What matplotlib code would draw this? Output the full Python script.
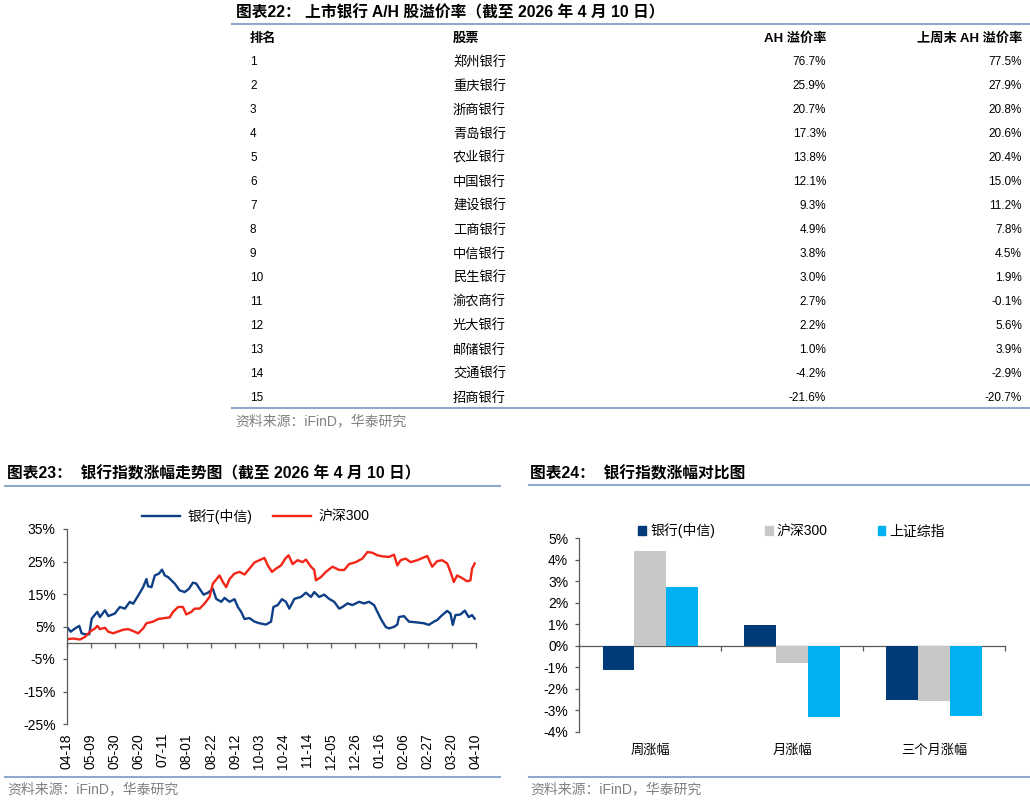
import numpy as np
import matplotlib
matplotlib.use('Agg')
import matplotlib.pyplot as plt
from matplotlib.patches import Patch
from matplotlib.lines import Line2D

plt.rcParams['font.family'] = ['Liberation Sans', 'Noto Sans CJK SC']
plt.rcParams['axes.unicode_minus'] = False

W, H = 1030, 802

# ---- table data (图表22)
ranks = [str(i) for i in range(1, 16)]
stocks = ['郑州银行', '重庆银行', '浙商银行', '青岛银行', '农业银行', '中国银行', '建设银行',
          '工商银行', '中信银行', '民生银行', '渝农商行', '光大银行', '邮储银行', '交通银行', '招商银行']
ah_now = [76.7, 25.9, 20.7, 17.3, 13.8, 12.1, 9.3, 4.9, 3.8, 3.0, 2.7, 2.2, 1.0, -4.2, -21.6]
ah_last = [77.5, 27.9, 20.8, 20.6, 20.4, 15.0, 11.2, 7.8, 4.5, 1.9, -0.1, 5.6, 3.9, -2.9, -20.7]

# ---- line chart data (图表23), x = days since 2025-04-18
bank_day = [0, 3.5, 7.3, 11, 13, 16, 19.7, 21.8, 26.7, 29, 33.4, 36.3, 42, 46.4, 50.8, 55.1, 58,
            62.4, 66.7, 69.6, 71, 74, 76.9, 80.6, 83.2, 85.6, 88.5, 91.4, 94.3, 98.6, 103, 106.7,
            110.2, 113.1, 116, 119.5, 123.3, 127.6, 130.5, 134.9, 137.8, 142.1, 146.5, 149.4,
            152.3, 155.2, 159.5, 163.9, 168.2, 174, 178.4, 180.4, 184.2, 187.9, 191.4, 194.3,
            198.7, 201.6, 204.5, 208.8, 213.2, 216.1, 220.4, 224.8, 229.1, 233.5, 237.8, 240.7,
            245.1, 249.4, 255.2, 259.6, 263.9, 268.3, 271.2, 274.1, 278.4, 281.3, 285.7, 288.6,
            290, 294.4, 298.7, 304.5, 311.8, 316.1, 320.5, 323.4, 327.7, 332.1, 335, 337, 339.3,
            343.7, 347.5, 350.9, 353.8, 356.1]
bank_val = [4.9, 3.4, 4.4, 5.2, 2.9, 2.6, 2.6, 7.4, 9.5, 7.9, 10.0, 8.2, 9.0, 11.0, 10.5, 12.6, 12.0,
            14.5, 17.1, 19.6, 17.4, 17.1, 20.7, 21.3, 22.5, 20.7, 20.2, 19.2, 18.2, 16.1, 15.6, 16.6,
            18.5, 18.2, 16.6, 14.8, 15.4, 16.6, 13.5, 12.6, 13.8, 12.6, 13.4, 11.0,
            9.5, 7.3, 7.6, 6.5, 6.0, 5.6, 6.5, 11.0, 11.6, 13.4, 12.6, 10.5,
            13.5, 13.8, 14.1, 15.4, 14.1, 15.6, 14.1, 14.8, 13.5, 12.6, 10.5, 11.0,
            12.1, 11.6, 12.6, 12.1, 12.6, 11.6, 9.5, 7.4, 4.9, 4.4, 4.9, 5.6,
            7.9, 8.2, 6.5, 6.3, 6.0, 5.5, 6.5, 7.0, 8.5, 9.8, 9.0, 5.5, 8.5,
            8.7, 9.9, 7.9, 8.5, 7.4]
hs_day = [0, 5.8, 11.6, 16, 20.3, 24.7, 26.7, 29, 33.4, 36.3, 40.6, 43.5, 49.3, 53.7, 58, 62.4,
          66.7, 69.6, 75.4, 79.8, 85.6, 89.9, 92.8, 97.2, 101.5, 104.4, 108.8, 111.7, 116, 120.4,
          124.7, 127.6, 129.9, 133.4, 136.3, 139.2, 142.1, 146.5, 150.8, 155.2, 159.5, 163.9,
          168.2, 172.6, 175.5, 179.2, 182.7, 187.1, 190.8, 193.7, 197.2, 201.6, 205.9, 208.8,
          213.2, 216.1, 217.5, 221.9, 226.2, 232, 237.8, 242.2, 246.5, 252.3, 258.1, 262.5,
          266.8, 271.2, 275.5, 281.3, 285.7, 288.6, 291.5, 295.8, 300.2, 306, 314.7, 319, 323.4,
          327.7, 332.1, 335, 337.9, 340.8, 345.1, 349.5, 352.4, 353.8, 356.1]
hs_val = [1.1, 1.3, 1.0, 1.8, 3.4, 4.4, 5.2, 4.2, 4.6, 3.4, 2.9, 3.3, 4.0, 4.2, 3.6, 2.9,
          4.4, 6.0, 6.5, 7.3, 7.6, 7.8, 9.5, 11.0, 11.0, 8.7, 9.5, 10.5, 10.5, 12.1,
          14.1, 18.2, 19.2, 20.7, 18.7, 17.1, 19.6, 21.3, 21.8, 21.0, 22.8, 24.7,
          25.4, 26.1, 23.8, 21.8, 22.8, 23.8, 25.9, 26.9, 24.2, 25.4, 24.8, 25.6,
          23.4, 22.4, 19.2, 20.2, 21.8, 23.4, 22.4, 22.4, 24.2, 24.8, 25.9, 27.9,
          27.7, 26.9, 26.6, 26.4, 27.1, 23.8, 25.4, 25.9, 24.8, 25.4, 26.7, 23.4, 25.1,
          25.4, 24.4, 21.8, 18.7, 20.7, 19.9, 18.9, 19.2, 22.8, 24.4]
date_ticks = ['04-18', '05-09', '05-30', '06-20', '07-11', '08-01', '08-22', '09-12', '10-03',
              '10-24', '11-14', '12-05', '12-26', '01-16', '02-06', '02-27', '03-20', '04-10']

# ---- bar chart data (图表24)
periods = ['周涨幅', '月涨幅', '三个月涨幅']
bank_chg = [-1.14, 0.95, -2.53]
hs300_chg = [4.43, -0.81, -2.57]
sse_chg = [2.74, -3.32, -3.26]

RULE = '#8eaacb'
SRC = '#808080'
AXC = '#595959'

fig = plt.figure(figsize=(W / 100, H / 100), dpi=100)


def ftext(x, y, s, **kw):
    kw.setdefault('va', 'center')
    fig.text(x / W, 1 - y / H, s, **kw)


def hline(x0, x1, y, lw=1.5):
    fig.add_artist(Line2D([x0 / W, x1 / W], [1 - y / H] * 2, color=RULE, lw=lw))


# ================= table
ftext(236, 13, '图表22： 上市银行 A/H 股溢价率（截至 2026 年 4 月 10 日）', fontsize=11.3, fontweight='bold')
hline(232, 1030, 24)
ftext(250, 39, '排名', fontsize=9.5, fontweight='bold')
ftext(453, 39, '股票', fontsize=9.5, fontweight='bold')
ftext(826, 39, 'AH 溢价率', fontsize=9.5, fontweight='bold', ha='right')
ftext(1022, 39, '上周末 AH 溢价率', fontsize=9.5, fontweight='bold', ha='right')
for i in range(len(ranks)):
    y = 62 + 24 * i
    ftext(250, y, ranks[i], fontsize=8.5)
    ftext(453, y, stocks[i], fontsize=9.5)
    ftext(826, y, f'{ah_now[i]:.1f}%', fontsize=8.5, ha='right')
    ftext(1022, y, f'{ah_last[i]:.1f}%', fontsize=8.5, ha='right')
hline(232, 1030, 408)
ftext(235, 421, '资料来源：iFinD，华泰研究', fontsize=10, color=SRC)

# ================= line chart
ftext(7, 473, '图表23：  银行指数涨幅走势图（截至 2026 年 4 月 10 日）', fontsize=11.3, fontweight='bold')
hline(5, 500, 486)
hline(5, 500, 777)
ftext(7, 789, '资料来源：iFinD，华泰研究', fontsize=10, color=SRC)

ax1 = fig.add_axes([66.7 / W, 1 - 724 / H, 409 / W, 195 / H])
l1, = ax1.plot(bank_day, bank_val, color='#0e3f86', lw=1.7)
l2, = ax1.plot(hs_day, hs_val, color='#f42516', lw=1.7)
ax1.set_xlim(0, 357)
ax1.set_ylim(-25, 35)
yt = [35, 25, 15, 5, -5, -15, -25]
ax1.set_yticks(yt, [f'{v}%' for v in yt])
xt = np.arange(len(date_ticks)) * 21
ax1.set_xticks(xt, date_ticks, rotation=90, va='top')
ax1.tick_params(axis='x', length=0, pad=6.5, labelsize=10)
ax1.tick_params(axis='y', length=3, width=0.9, color=AXC, pad=5, labelsize=10)
for s in ['top', 'right', 'bottom']:
    ax1.spines[s].set_visible(False)
ax1.spines['left'].set_color(AXC)
ax1.spines['left'].set_linewidth(0.9)
sec1 = ax1.secondary_xaxis(25 / 60)
sec1.set_xticks(xt)
sec1.tick_params(axis='x', length=3.5, width=0.9, color=AXC, labelbottom=False)
sec1.spines['bottom'].set_color(AXC)
sec1.spines['bottom'].set_linewidth(0.9)
ax1.legend([l1, l2], ['银行(中信)', '沪深300'], loc='center', bbox_to_anchor=(255.5 / W, 1 - 516 / H),
           bbox_transform=fig.transFigure, ncol=2, frameon=False, fontsize=10,
           handlelength=2.75, handletextpad=0.5, columnspacing=1.5)

# ================= bar chart
ftext(530, 473, '图表24：  银行指数涨幅对比图', fontsize=11.3, fontweight='bold')
hline(529, 1030, 485)
hline(529, 1030, 777)
ftext(530, 789, '资料来源：iFinD，华泰研究', fontsize=10, color=SRC)

ax2 = fig.add_axes([579.3 / W, 1 - 731.7 / H, 425.7 / W, 193.4 / H])
x = np.arange(len(periods))
bw = 0.224
ax2.bar(x - bw, bank_chg, bw, color='#003a78')
ax2.bar(x, hs300_chg, bw, color='#c8c8c8')
ax2.bar(x + bw, sse_chg, bw, color='#00b0f0')
ax2.set_xlim(-0.5, 2.5)
ax2.set_ylim(-4, 5)
yb = [5, 4, 3, 2, 1, 0, -1, -2, -3, -4]
ax2.set_yticks(yb, [f'{v}%' for v in yb])
ax2.set_xticks(x, periods)
ax2.tick_params(axis='x', length=0, pad=9, labelsize=9.5)
ax2.tick_params(axis='y', length=3, width=0.9, color=AXC, pad=5, labelsize=10)
for s in ['top', 'right', 'bottom']:
    ax2.spines[s].set_visible(False)
ax2.spines['left'].set_color(AXC)
ax2.spines['left'].set_linewidth(0.9)
sec2 = ax2.secondary_xaxis(4 / 9)
sec2.set_xticks([0.5, 1.5, 2.5])
sec2.tick_params(axis='x', length=3.5, width=0.9, color=AXC, labelbottom=False)
sec2.spines['bottom'].set_color(AXC)
sec2.spines['bottom'].set_linewidth(0.9)
handles = [Patch(color='#003a78'), Patch(color='#c8c8c8'), Patch(color='#00b0f0')]
ax2.legend(handles, ['银行(中信)', '沪深300', '上证综指'], loc='center',
           bbox_to_anchor=(791.7 / W, 1 - 531 / H), bbox_transform=fig.transFigure, ncol=3,
           frameon=False, fontsize=10, handlelength=0.55, handleheight=0.55,
           handletextpad=0.3, columnspacing=3.6)

fig.savefig('out.png', dpi=100)
